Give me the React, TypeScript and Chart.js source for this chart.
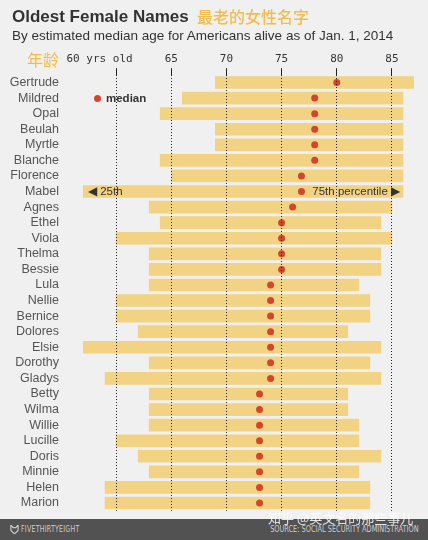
import React, { useEffect, useRef } from "react";
import { Chart, registerables } from "chart.js";

Chart.register(...registerables);

const names = [
  "Gertrude", "Mildred", "Opal", "Beulah", "Myrtle", "Blanche", "Florence",
  "Mabel", "Agnes", "Ethel", "Viola", "Thelma", "Bessie", "Lula", "Nellie",
  "Bernice", "Dolores", "Elsie", "Dorothy", "Gladys", "Betty", "Wilma",
  "Willie", "Lucille", "Doris", "Minnie", "Helen", "Marion",
];
const p25 = [69, 66, 64, 69, 69, 64, 65, 57, 63, 64, 60, 63, 63, 63, 60, 60, 62, 57, 63, 59, 63, 63, 63, 60, 62, 63, 59, 59];
const p75 = [87, 86, 86, 86, 86, 86, 86, 86, 85, 84, 85, 84, 84, 82, 83, 83, 81, 84, 83, 84, 81, 81, 82, 82, 84, 82, 83, 83];
const medians = [80, 78, 78, 78, 78, 78, 76.8, 76.8, 76, 75, 75, 75, 75, 74, 74, 74, 74, 74, 74, 74, 73, 73, 73, 73, 73, 73, 73, 73];
const tickValues = [60, 65, 70, 75, 80, 85];
const tickLabels = ["60 yrs old     ", "65", "70", "75", "80", "85"];

const BAR = "#f2d383";
const DOT = "#d4462c";
const GOLD = "#f2bd4c";

const mabelPlugin = {
  id: "mabelNote",
  afterDatasetsDraw(chart: any) {
    const meta = chart.getDatasetMeta(0);
    const idx = names.indexOf("Mabel");
    const el = meta.data[idx];
    if (!el) return;
    const left = Math.min(el.x, el.base);
    const right = Math.max(el.x, el.base);
    const ctx = chart.ctx;
    ctx.save();
    ctx.fillStyle = "#333";
    ctx.font = "11.5px 'Liberation Sans', Arial, sans-serif";
    ctx.textBaseline = "middle";
    ctx.textAlign = "left";
    ctx.fillText("\u25C0 25th", left + 5, el.y + 0.5);
    ctx.textAlign = "right";
    ctx.fillText("75th percentile \u25B6", right - 3, el.y + 0.5);
    ctx.restore();
  },
};

function App() {
  const ref = useRef<HTMLCanvasElement>(null);

  useEffect(() => {
    if (!ref.current) return;
    const chart = new Chart(ref.current, {
      type: "bar",
      data: {
        labels: names,
        datasets: [
          {
            type: "bar",
            data: names.map((_, i) => [p25[i], p75[i]]) as any,
            backgroundColor: BAR,
            borderWidth: 0,
            borderSkipped: false,
            barThickness: 12,
            order: 2,
          },
          {
            type: "line",
            indexAxis: "y",
            data: medians as any,
            showLine: false,
            pointRadius: 3.5,
            pointBackgroundColor: DOT,
            pointBorderWidth: 0,
            borderColor: DOT,
            order: 1,
          } as any,
        ],
      },
      options: {
        indexAxis: "y",
        animation: false,
        responsive: false,
        devicePixelRatio: 1,
        layout: { padding: { top: 50, left: 0, right: 14, bottom: 29.2 } },
        plugins: { legend: { display: false }, tooltip: { enabled: false }, title: { display: false } },
        scales: {
          x: {
            type: "linear",
            position: "top",
            min: 57,
            max: 87,
            afterBuildTicks: (s: any) => {
              s.ticks = tickValues.map((v) => ({ value: v }));
            },
            afterFit: (s: any) => {
              s.height = 24.7;
            },
            ticks: {
              color: "#333",
              font: { family: "'DejaVu Sans Mono', monospace", size: 11 },
              padding: 2,
              maxRotation: 0,
              autoSkip: false,
              callback: (v: any) => {
                const i = tickValues.indexOf(Number(v));
                return i >= 0 ? tickLabels[i] : "";
              },
            },
            grid: {
              color: "#222",
              lineWidth: 1,
              drawTicks: true,
              tickLength: 6.5,
              tickColor: "#222",
              z: 1,
            },
            border: { display: false, dash: [1, 2] },
          },
          y: {
            type: "category",
            offset: true,
            afterFit: (s: any) => {
              s.width = 83;
            },
            ticks: {
              color: "#555",
              font: { family: "'Liberation Sans', Arial, sans-serif", size: 12.5 },
              padding: 16,
              autoSkip: false,
            },
            grid: { display: false },
            border: { display: false },
          },
        },
      },
      plugins: [mabelPlugin],
    } as any);
    return () => chart.destroy();
  }, []);

  const sans = "'Liberation Sans', Arial, sans-serif";
  const cjk = "'Noto Sans CJK SC', sans-serif";
  const cond = "'DejaVu Sans Condensed', 'DejaVu Sans', sans-serif";

  return (
    <div
      style={{
        position: "absolute",
        left: 0,
        top: 0,
        width: 428,
        height: 540,
        background: "#f0f0f0",
        overflow: "hidden",
        fontFamily: sans,
      }}
    >
      <canvas ref={ref} width={428} height={540} style={{ position: "absolute", left: 0, top: 0, width: 428, height: 540 }} />
      <div style={{ position: "absolute", left: 12, top: 7, fontSize: 17, lineHeight: "20px", fontWeight: "bold", color: "#333", whiteSpace: "nowrap" }}>
        Oldest Female Names
      </div>
      <div style={{ position: "absolute", left: 197, top: 6, fontSize: 16, lineHeight: "20px", fontFamily: cjk, fontWeight: 500, color: GOLD, whiteSpace: "nowrap" }}>
        最老的女性名字
      </div>
      <div style={{ position: "absolute", left: 12, top: 27, fontSize: 13.5, lineHeight: "18px", color: "#333", whiteSpace: "nowrap" }}>
        By estimated median age for Americans alive as of Jan. 1, 2014
      </div>
      <div style={{ position: "absolute", left: 27, top: 49, fontSize: 16, lineHeight: "20px", fontFamily: cjk, color: GOLD, whiteSpace: "nowrap" }}>
        年龄
      </div>
      <div style={{ position: "absolute", left: 93.5, top: 94.5, width: 7, height: 7, borderRadius: "50%", background: DOT }} />
      <div style={{ position: "absolute", left: 106, top: 91, fontSize: 11.5, lineHeight: "14px", fontWeight: "bold", color: "#333", whiteSpace: "nowrap" }}>
        median
      </div>
      <div style={{ position: "absolute", left: 0, top: 519, width: 428, height: 21, background: "#525252" }}>
        <svg width="9" height="9" viewBox="0 0 10 10" style={{ position: "absolute", left: 10, top: 6 }}>
          <path d="M1 0 L3.5 3 L6.5 3 L9 0 L9 6 L5 10 L1 6 Z" fill="none" stroke="#ccc" strokeWidth="1.3" />
        </svg>
        <div style={{ position: "absolute", left: 21, top: 5, fontSize: 8.5, lineHeight: "11px", fontFamily: cond, letterSpacing: 0.3, color: "#cfcfcf", whiteSpace: "nowrap", transform: "scaleX(0.82)", transformOrigin: "left center" }}>
          FIVETHIRTYEIGHT
        </div>
        <div style={{ position: "absolute", right: 9, top: 5, fontSize: 8.5, lineHeight: "11px", fontFamily: cond, color: "#cfcfcf", whiteSpace: "nowrap", transform: "scaleX(0.86)", transformOrigin: "right center" }}>
          SOURCE: SOCIAL SECURITY ADMINISTRATION
        </div>
      </div>
      <div style={{ position: "absolute", left: 268, top: 509, fontSize: 13, lineHeight: "18px", fontFamily: cjk, color: "rgba(255,255,255,0.85)", whiteSpace: "nowrap" }}>
        知乎 @英文名的那些事儿
      </div>
    </div>
  );
}

export default App;
